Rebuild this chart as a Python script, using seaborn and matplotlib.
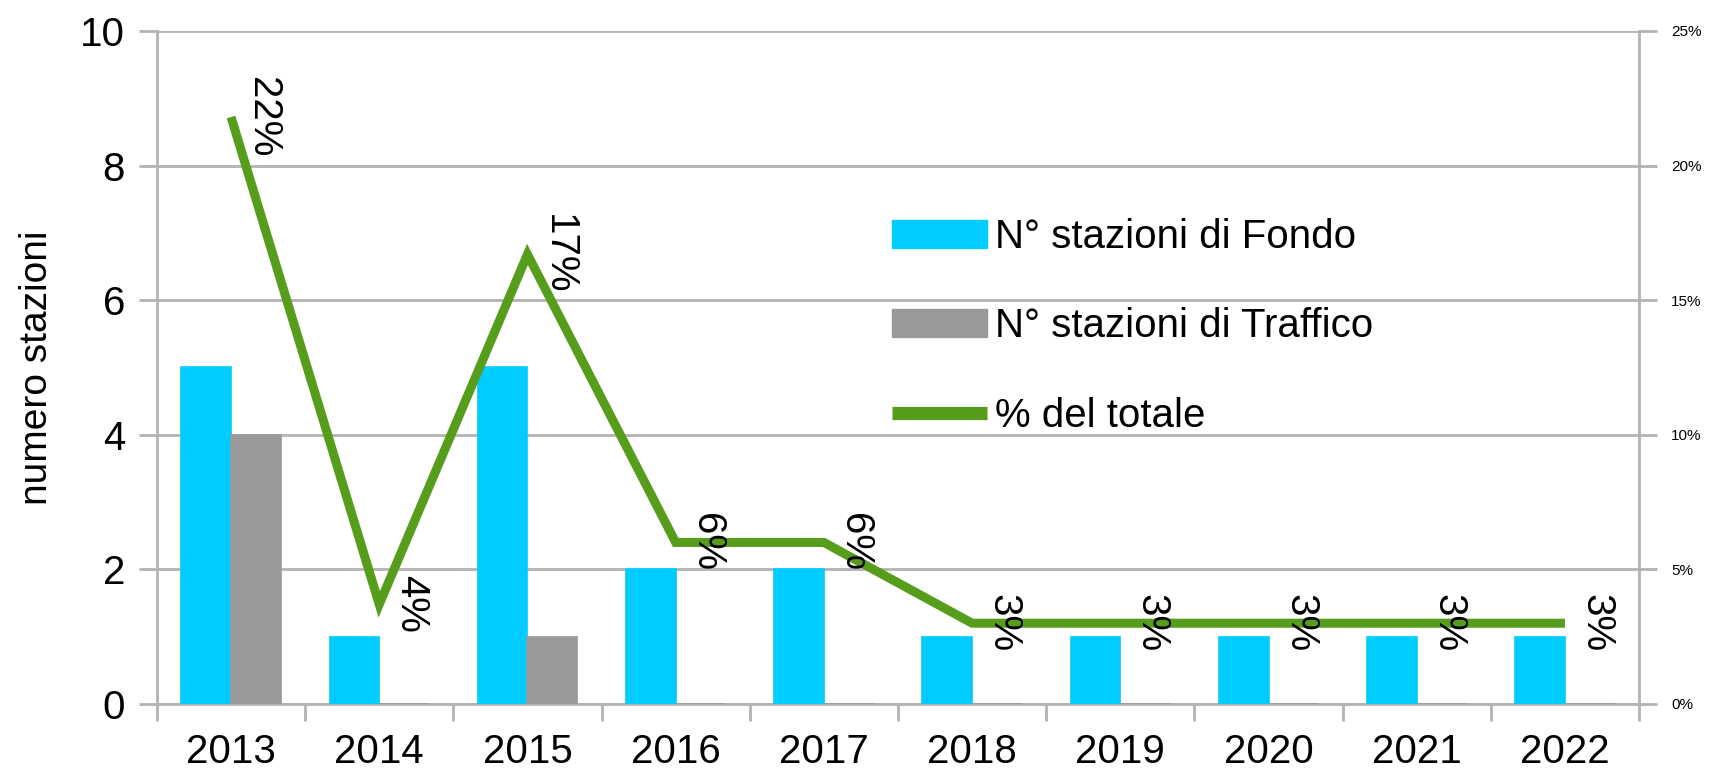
import matplotlib
matplotlib.use("Agg")
import matplotlib.pyplot as plt
import seaborn as sns
import pandas as pd
import numpy as np
from matplotlib.patches import Patch
from matplotlib.lines import Line2D

years = ["2013", "2014", "2015", "2016", "2017", "2018", "2019", "2020", "2021", "2022"]
fondo = [5, 1, 5, 2, 2, 1, 1, 1, 1, 1]
traffico = [4, 0, 1, 0, 0, 0, 0, 0, 0, 0]
perc = [21.8, 3.7, 16.7, 6.0, 6.0, 3.0, 3.0, 3.0, 3.0, 3.0]
perc_labels = ["22%", "4%", "17%", "6%", "6%", "3%", "3%", "3%", "3%", "3%"]
left_ticks = [0, 2, 4, 6, 8, 10]
right_ticks = [0, 5, 10, 15, 20, 25]

lab_fondo = "N° stazioni di Fondo"
lab_traff = "N° stazioni di Traffico"
lab_perc = "% del totale"

C_BLUE = "#00CCFF"
C_GRAY = "#999999"
C_GREEN = "#579D1C"
C_GRID = "#B3B3B3"

sns.set_theme(style="white")
plt.rcParams["font.family"] = ["Liberation Sans", "DejaVu Sans"]
plt.rcParams["text.color"] = "black"
plt.rcParams["axes.labelcolor"] = "black"
plt.rcParams["xtick.labelcolor"] = "black"
plt.rcParams["ytick.labelcolor"] = "black"

df = pd.DataFrame({
    "anno": years * 2,
    "n": fondo + traffico,
    "tipo": [lab_fondo] * len(years) + [lab_traff] * len(years),
})

fig = plt.figure(figsize=(17.17, 7.73), dpi=100)
ax = fig.add_axes([0.0914, 0.0893, 0.9546 - 0.0914, 0.960 - 0.0893])

sns.barplot(data=df, x="anno", y="n", hue="tipo", order=years,
            hue_order=[lab_fondo, lab_traff], palette=[C_BLUE, C_GRAY],
            width=0.67, ax=ax, legend=False, saturation=1)
for p in ax.patches:
    p.set_edgecolor(p.get_facecolor())
    p.set_linewidth(1.2)
    p.set_zorder(3)

ax.set_ylim(0, 10)
ax.set_xlim(-0.5, len(years) - 0.5)
ax.set_yticks(left_ticks)
ax.set_yticklabels([str(t) for t in left_ticks])
ax.yaxis.grid(True, color=C_GRID, linewidth=2)
ax.set_axisbelow(True)
ax.set_xlabel("")
ax.set_ylabel("numero stazioni", fontsize=28, labelpad=18)
ax.tick_params(axis="y", labelsize=29, length=13, width=2, color=C_GRID, pad=10, left=True)
ax.set_xticks(np.arange(len(years)))
ax.set_xticklabels(years)
ax.set_xticks(np.arange(len(years) + 1) - 0.5, minor=True)
ax.tick_params(axis="x", which="major", length=0, labelsize=29, pad=21)
ax.tick_params(axis="x", which="minor", length=12, width=2, color=C_GRID, bottom=True)
for s in ["left", "right", "bottom"]:
    ax.spines[s].set_color(C_GRID)
    ax.spines[s].set_linewidth(2)
ax.spines["top"].set_visible(False)

ax2 = ax.twinx()
xpos = np.arange(len(years))
sns.lineplot(x=xpos, y=perc, color=C_GREEN, linewidth=6.5, ax=ax2, legend=False)
for ln in ax2.lines:
    ln.set_solid_capstyle("butt")
    ln.set_solid_joinstyle("miter")
ax2.set_ylim(0, 25)
ax2.set_yticks(right_ticks)
ax2.set_yticklabels([f"{t}%" for t in right_ticks])
ax2.tick_params(axis="y", labelsize=11, length=13, width=2, color=C_GRID, pad=10, right=True)
for s in ["left", "right", "bottom", "top"]:
    ax2.spines[s].set_visible(False)
ax2.set_ylabel("")
ax2.grid(False)

for x, v, t in zip(xpos, perc, perc_labels):
    ax2.annotate(t, (x, v), xytext=(9, 0), textcoords="offset points",
                 rotation=270, ha="left", va="center", fontsize=29)

handles = [Patch(facecolor=C_BLUE, edgecolor=C_BLUE),
           Patch(facecolor=C_GRAY, edgecolor=C_GRAY),
           Line2D([0], [0], color=C_GREEN, linewidth=9.5, solid_capstyle="butt")]
leg = ax2.legend(handles, [lab_fondo, lab_traff, lab_perc], loc="center left",
                 bbox_to_anchor=(0.496, 0.561), frameon=False, fontsize=29,
                 handlelength=2.35, handletextpad=0.2, labelspacing=1.28,
                 borderaxespad=0, borderpad=0)

fig.savefig("out.png", dpi=100)
